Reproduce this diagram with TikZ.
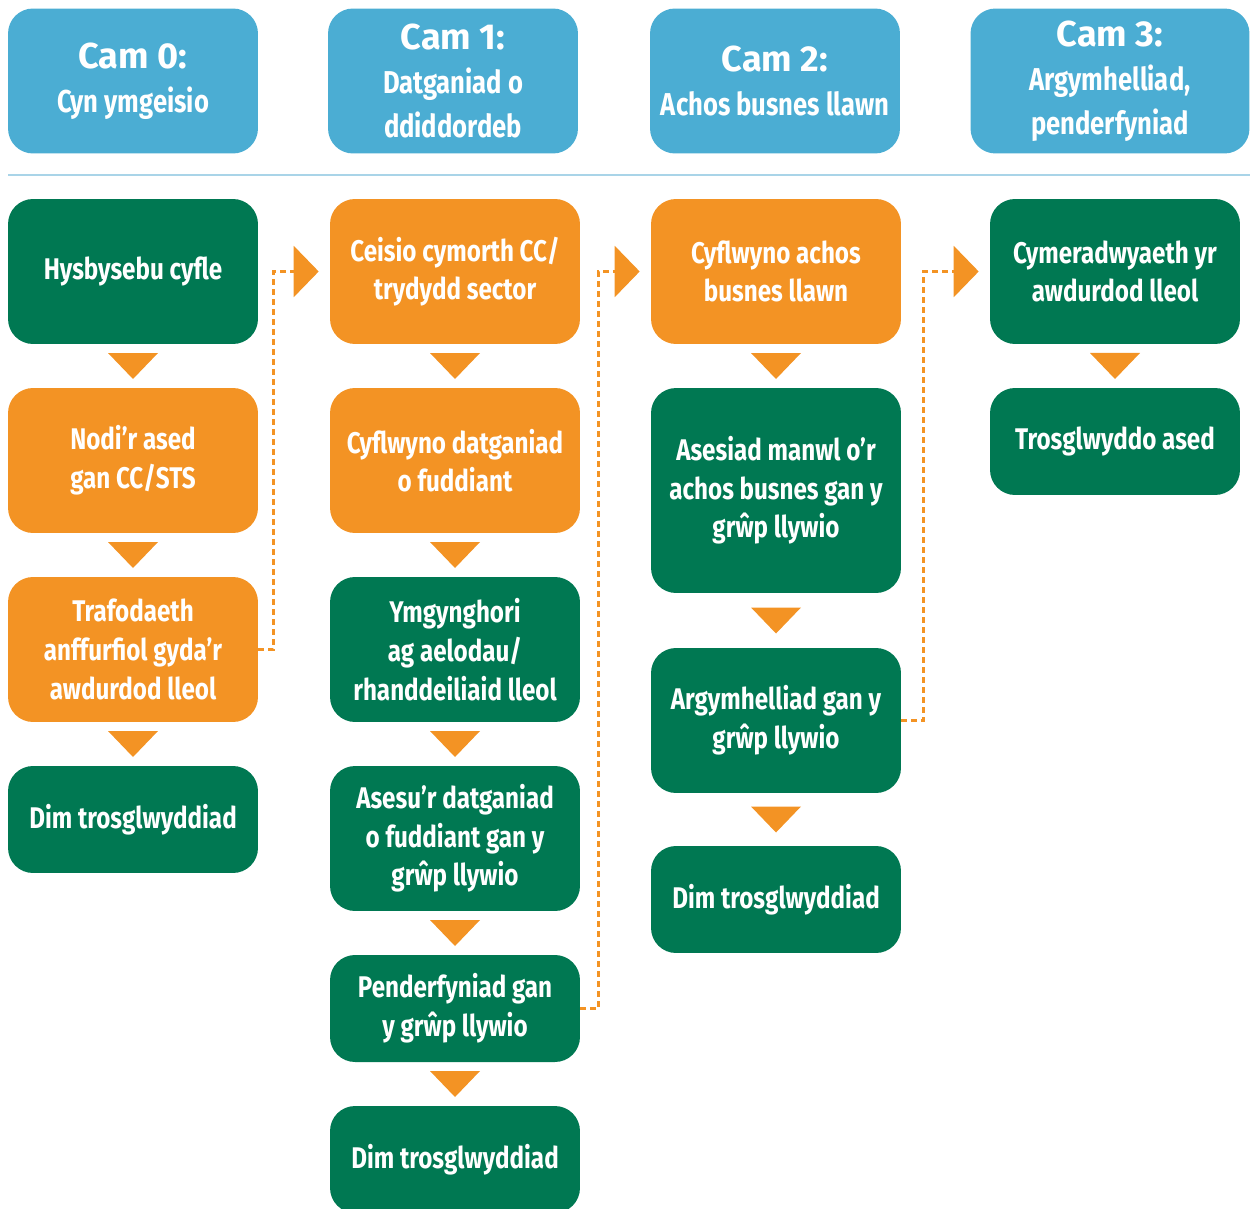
\documentclass[tikz,border=0pt]{standalone}
\usepackage{fontspec}
\setmainfont{Fira Sans}
\newfontfamily\condfont{Fira Sans}[FakeStretch=0.81]
\newfontfamily\headfont{Fira Sans}
\usetikzlibrary{calc,arrows.meta}
\definecolor{headblue}{HTML}{4BADD3}
\definecolor{darkgreen}{HTML}{007852}
\definecolor{flowor}{HTML}{F39324}
\definecolor{lineblue}{HTML}{A9D4E8}
\newcommand{\downtri}[2]{\fill[flowor] ($(#1.south)!0.5!(#2.north)$) ++(-25,-13) -- ++(50,0) -- ++(-25,26) -- cycle;}
\newcommand{\camlabel}[1]{{\headfont\bfseries\fontsize{20.5}{25}\selectfont #1}}
\begin{document}
\begin{tikzpicture}[x=0.02cm, y=-0.02cm,
box/.style={rounded corners=0.5cm, minimum width=5cm, minimum height=2.9cm, inner sep=0pt, align=center, text=white, font=\condfont\bfseries\fontsize{17}{22}\selectfont},
green box/.style={box, fill=darkgreen},
orange box/.style={box, fill=flowor},
short box/.style={minimum height=2.14cm},
head box/.style={box, fill=headblue, font=\condfont\bfseries\fontsize{18}{25}\selectfont},
dash link/.style={draw=flowor, line width=1.4pt, dash pattern=on 0.12cm off 0.08cm, shorten >=0.22cm, -{Triangle[width=1.02cm, length=0.5cm]}}]
\useasboundingbox (0,0) rectangle (1250,1209);
% headers
\begin{scope}
\node[head box] (h0) at (133,81) {\camlabel{Cam 0:}\\Cyn ymgeisio};
\node[head box] (h1) at (453,81) {\camlabel{Cam 1:}\\Datganiad o\\ddiddordeb};
\node[head box] (h2) at (775,81) {\camlabel{Cam 2:}\\Achos busnes llawn};
\node[head box, minimum width=5.58cm] (h3) at (1110,81) {\camlabel{Cam 3:}\\Argymhelliad,\\penderfyniad};
\draw[lineblue, line width=1.6pt] (8,175) -- (1250,175);
\end{scope}
% steps
\begin{scope}
\node[green box] (hys) at (133,271.5) {Hysbysebu cyfle};
\node[orange box] (nodi) at (133,460.5) {Nodi’r ased\\gan CC/STS};
\node[orange box] (traf) at (133,649.5) {Trafodaeth\\anffurfiol gyda’r\\awdurdod lleol};
\node[green box, short box] (dim0) at (133,819.5) {Dim trosglwyddiad};
\node[orange box] (ceis) at (455,271.5) {Ceisio cymorth CC/\\trydydd sector};
\node[orange box] (cyfl) at (455,460.5) {Cyflwyno datganiad\\o fuddiant};
\node[green box] (ymg) at (455,649.5) {Ymgynghori\\ag aelodau/\\rhanddeiliaid lleol};
\node[green box] (ases) at (455,838.5) {Asesu’r datganiad\\o fuddiant gan y\\grŵp llywio};
\node[green box, short box] (pend) at (455,1008.5) {Penderfyniad gan\\y grŵp llywio};
\node[green box, short box] (dim1) at (455,1159.5) {Dim trosglwyddiad};
\node[orange box] (cyach) at (776,271.5) {Cyflwyno achos\\busnes llawn};
\node[green box, minimum height=4.1cm] (asesiad) at (776,490.5) {Asesiad manwl o’r\\achos busnes gan y\\grŵp llywio};
\node[green box] (argym) at (776,720.5) {Argymhelliad gan y\\grŵp llywio};
\node[green box, short box] (dim2) at (776,899.5) {Dim trosglwyddiad};
\node[green box] (cymer) at (1115,271.5) {Cymeradwyaeth yr\\awdurdod lleol};
\node[green box, short box] (trosg) at (1115,441.5) {Trosglwyddo ased};
\end{scope}
% links
\begin{scope}
\downtri{hys}{nodi}
\downtri{nodi}{traf}
\downtri{traf}{dim0}
\downtri{ceis}{cyfl}
\downtri{cyfl}{ymg}
\downtri{ymg}{ases}
\downtri{ases}{pend}
\downtri{pend}{dim1}
\downtri{cyach}{asesiad}
\downtri{asesiad}{argym}
\downtri{argym}{dim2}
\downtri{cymer}{trosg}
\draw[dash link] (traf.east) -- ++(15,0) |- (ceis.west);
\draw[dash link] (pend.east) -- ++(18,0) |- (cyach.west);
\draw[dash link] (argym.east) -- ++(22,0) |- (cymer.west);
\end{scope}
\end{tikzpicture}
\end{document}
